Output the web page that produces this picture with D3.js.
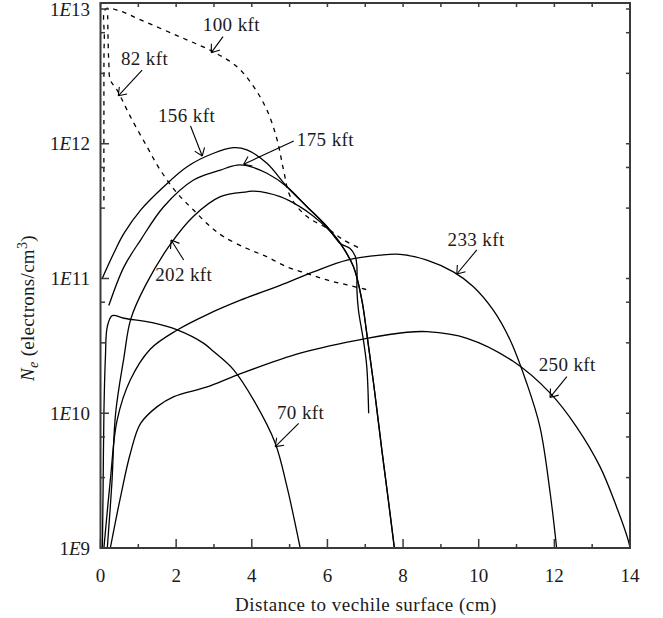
<!DOCTYPE html>
<html><head><meta charset="utf-8">
<script src="https://cdn.jsdelivr.net/npm/d3@7"></script>
<style>
body{margin:0;background:#fff}
svg{display:block}
</style>
</head><body>
<svg id="chart" width="663" height="618" font-family="'Liberation Serif', 'DejaVu Serif', 'Times New Roman', serif"></svg>
<script>
// ---- data (x: cm, y: electrons/cm^3) ----
const xMajorTicks = [0, 2, 4, 6, 8, 10, 12, 14];
const xMinorTicks = [1, 3, 5, 7, 9, 11, 13];
const yMajorTicks = [1e9, 1e10, 1e11, 1e12, 1e13];
const yTickExponents = ["9", "10", "11", "12", "13"];
const yMinorTicks = [3.33e9, 6.67e9, 3.33e10, 6.67e10, 3.33e11, 6.67e11, 3.33e12, 6.67e12];

const curve70 = [[0.05,1e9],[0.07,3e9],[0.09,1e10],[0.13,2.6e10],[0.18,4.4e10],[0.31,5.3e10],[0.62,5.07e10],[1.37,4.7e10],[2.03,4.15e10],[2.73,3.3e10],[2.99,2.87e10],[3.52,2.1e10],[4.05,1.25e10],[4.62,6.0e9],[4.93,2.85e9],[5.28,1e9]];
const curve82 = [[0.19,9.0e12],[0.20,6.0e12],[0.22,4.0e12],[0.26,2.97e12],[0.44,2.5e12],[0.79,1.59e12],[1.23,9.5e11],[1.58,6.38e11],[2.03,4.29e11],[2.46,3.22e11],[2.91,2.42e11],[3.26,2.04e11],[3.87,1.67e11],[4.40,1.45e11],[4.93,1.22e11],[5.46,1.09e11],[5.99,9.75e10],[6.52,8.96e10],[7.09,8.2e10]];
const curve100 = [[0.09,3.8e11],[0.09,1.5e12],[0.1,6.0e12],[0.14,1.0e13],[0.5,9.7e12],[1.06,8.3e12],[2.11,6.2e12],[2.99,4.8e12],[3.61,3.73e12],[4.05,2.65e12],[4.40,1.78e12],[4.67,1.07e12],[4.84,6.38e11],[5.02,4.05e11],[5.46,2.88e11],[5.99,2.36e11],[6.43,1.93e11],[6.91,1.65e11]];
const curve156 = [[0.045,1.0e11],[0.35,1.54e11],[0.62,2.16e11],[1.06,3.22e11],[1.67,4.8e11],[2.29,6.76e11],[2.99,8.5e11],[3.52,9.35e11],[3.87,9.0e11],[4.40,7.16e11],[4.93,4.8e11],[5.46,3.41e11],[5.99,2.42e11],[6.34,1.82e11],[6.60,1.67e11],[6.74,1.45e11],[6.78,1.22e11],[6.78,8.2e10],[6.82,5.84e10],[6.95,3.5e10],[7.04,2.22e10],[7.09,1.0e10]];
const curve175 = [[0.22,6.3e10],[0.62,1.22e11],[1.06,1.93e11],[1.67,3.41e11],[2.46,5.38e11],[3.17,6.38e11],[3.61,6.95e11],[3.87,6.87e11],[4.40,6.04e11],[4.93,4.8e11],[5.46,3.41e11],[5.99,2.42e11],[6.34,1.82e11],[6.69,1.22e11],[6.91,6.9e10],[7.04,3.92e10],[7.22,1.67e10],[7.44,5.3e9],[7.61,2.27e9],[7.77,1e9]];
const curve202 = [[0.18,1e9],[0.30,3e9],[0.40,1e10],[0.62,2.6e10],[0.80,5e10],[1.2,9e10],[1.85,1.8e11],[2.46,2.9e11],[3.17,4.05e11],[3.87,4.4e11],[4.05,4.45e11],[4.75,4.05e11],[5.28,3.4e11],[5.63,2.9e11],[6.0,2.35e11],[6.34,1.82e11],[6.69,1.22e11],[6.91,6.9e10],[7.04,3.92e10],[7.22,1.67e10],[7.44,5.3e9],[7.61,2.27e9],[7.77,1e9]];
const curve233 = [[0.09,1e9],[0.26,3.2e9],[0.44,8.9e9],[0.79,1.77e10],[1.32,3.0e10],[2.03,4.15e10],[2.82,5.4e10],[3.70,6.9e10],[4.75,8.9e10],[5.63,1.12e11],[6.52,1.37e11],[7.40,1.49e11],[7.92,1.51e11],[8.63,1.37e11],[9.33,1.12e11],[9.86,8.7e10],[10.39,5.8e10],[10.83,3.5e10],[11.27,1.67e10],[11.62,7.9e9],[11.89,2.55e9],[12.06,1e9]];
const curve250 = [[0.26,1e9],[0.53,2.4e9],[0.79,5.05e9],[1.06,8.4e9],[1.50,1.12e10],[1.94,1.33e10],[2.82,1.57e10],[3.61,1.92e10],[5.28,2.79e10],[7.04,3.6e10],[8.10,3.99e10],[8.63,4.03e10],[9.69,3.6e10],[10.92,2.42e10],[11.89,1.41e10],[12.59,7.9e9],[13.21,4.0e9],[13.65,2.0e9],[13.95,1.15e9],[14.0,1e9]];

const seriesNames = ["70 kft","82 kft","100 kft","156 kft","175 kft","202 kft","233 kft","250 kft"];
const seriesData = [curve70, curve82, curve100, curve156, curve175, curve202, curve233, curve250];
const seriesDashed = [false, true, true, false, false, false, false, false];

// annotations: label, text position (x, Ne), arrow tail, arrow tip, text anchor
const annLabels = ["100 kft","82 kft","156 kft","175 kft","202 kft","233 kft","250 kft","70 kft"];
const annText = [[3.46,6.87e12],[1.165,3.87e12],[2.275,1.46e12],[5.19,9.62e11],[2.20,9.58e10],[9.93,1.74e11],[12.34,2.06e10],[5.29,9.07e9]];
const annAnchor = ["middle","middle","middle","start","middle","middle","middle","middle"];
const annTail = [[3.24,6.23e12],[1.10,3.52e12],[2.38,1.355e12],[5.11,1.05e12],[2.20,1.37e11],[9.95,1.63e11],[12.33,1.87e10],[5.24,8.42e9]];
const annTip = [[2.93,4.74e12],[0.47,2.27e12],[2.69,8.11e11],[3.785,7.04e11],[1.867,1.93e11],[9.42,1.08e11],[11.886,1.31e10],[4.62,5.65e9]];

// ---- drawing ----
const svg = d3.select("#chart");
const x = d3.scaleLinear().domain([0, 14]).range([100.5, 630]);
const y = d3.scaleLog().domain([1e9, 1.108e13]).range([548, 3]);

const axisColor = "#3a3a3a";
const textColor = "#1a1a1a";
const g = svg.append("g");

// curves
const line = d3.line().x(d => x(d[0])).y(d => y(d[1])).curve(d3.curveCatmullRom.alpha(0.5));
seriesData.forEach((d, i) => {
  g.append("path").datum(d).attr("d", line)
    .attr("fill", "none").attr("stroke", "#000").attr("stroke-width", 1.3)
    .attr("stroke-dasharray", seriesDashed[i] ? "4.5,5" : null)
    .attr("stroke-linejoin", "round");
});

// frame
g.append("rect").attr("x", x(0)).attr("y", y.range()[1]).attr("width", x(14) - x(0))
  .attr("height", y.range()[0] - y.range()[1]).attr("fill", "none")
  .attr("stroke", axisColor).attr("stroke-width", 2);

// ticks (inward)
function tickLine(x1, y1, x2, y2) {
  g.append("line").attr("x1", x1).attr("y1", y1).attr("x2", x2).attr("y2", y2)
    .attr("stroke", axisColor).attr("stroke-width", 1.5);
}
xMajorTicks.forEach(v => { tickLine(x(v), 548, x(v), 539); tickLine(x(v), 3, x(v), 7); });
xMinorTicks.forEach(v => { tickLine(x(v), 548, x(v), 544); tickLine(x(v), 3, x(v), 7); });
yMajorTicks.forEach(v => { tickLine(100.5, y(v), 109, y(v)); tickLine(630, y(v), 626, y(v)); });
yMinorTicks.forEach(v => { tickLine(100.5, y(v), 105, y(v)); tickLine(630, y(v), 626, y(v)); });

// tick labels
xMajorTicks.forEach(v => {
  g.append("text").attr("x", x(v)).attr("y", 582).attr("text-anchor", "middle")
    .attr("font-size", 19).attr("fill", textColor).text(v);
});
yMajorTicks.forEach((v, i) => {
  const t = g.append("text").attr("x", 90).attr("y", y(v) + 6.5).attr("text-anchor", "end")
    .attr("font-size", 19).attr("fill", textColor);
  t.append("tspan").text("1");
  t.append("tspan").attr("font-style", "italic").text("E");
  t.append("tspan").text(yTickExponents[i]);
});

// axis titles
g.append("text").attr("x", 366).attr("y", 611).attr("text-anchor", "middle").attr("font-size", 19)
  .attr("letter-spacing", 0.5).attr("fill", textColor).text("Distance to vechile surface (cm)");
const yt = g.append("text").attr("transform", "translate(34,308) rotate(-90)")
  .attr("text-anchor", "middle").attr("font-size", 19).attr("letter-spacing", 0.3).attr("fill", textColor);
yt.append("tspan").attr("font-style", "italic").text("N");
yt.append("tspan").attr("font-style", "italic").attr("font-size", 14).attr("dy", 4).text("e");
yt.append("tspan").attr("dy", -4).text(" (electrons/cm");
yt.append("tspan").attr("font-size", 14).attr("dy", -7).text("3");
yt.append("tspan").attr("dy", 7).text(")");

// annotations
annLabels.forEach((lab, i) => {
  g.append("text").attr("x", x(annText[i][0])).attr("y", y(annText[i][1]))
    .attr("text-anchor", annAnchor[i]).attr("font-size", 19).attr("letter-spacing", 0.4)
    .attr("fill", textColor).text(lab);
  const x1 = x(annTail[i][0]), y1 = y(annTail[i][1]);
  const x2 = x(annTip[i][0]), y2 = y(annTip[i][1]);
  g.append("line").attr("x1", x1).attr("y1", y1).attr("x2", x2).attr("y2", y2)
    .attr("stroke", "#000").attr("stroke-width", 1.1);
  const ang = Math.atan2(y1 - y2, x1 - x2);
  const L = 9, A = Math.PI / 5;
  [ang - A, ang + A].forEach(a => {
    g.append("line").attr("x1", x2).attr("y1", y2)
      .attr("x2", x2 + L * Math.cos(a)).attr("y2", y2 + L * Math.sin(a))
      .attr("stroke", "#000").attr("stroke-width", 1.1);
  });
});
</script>
</body></html>
